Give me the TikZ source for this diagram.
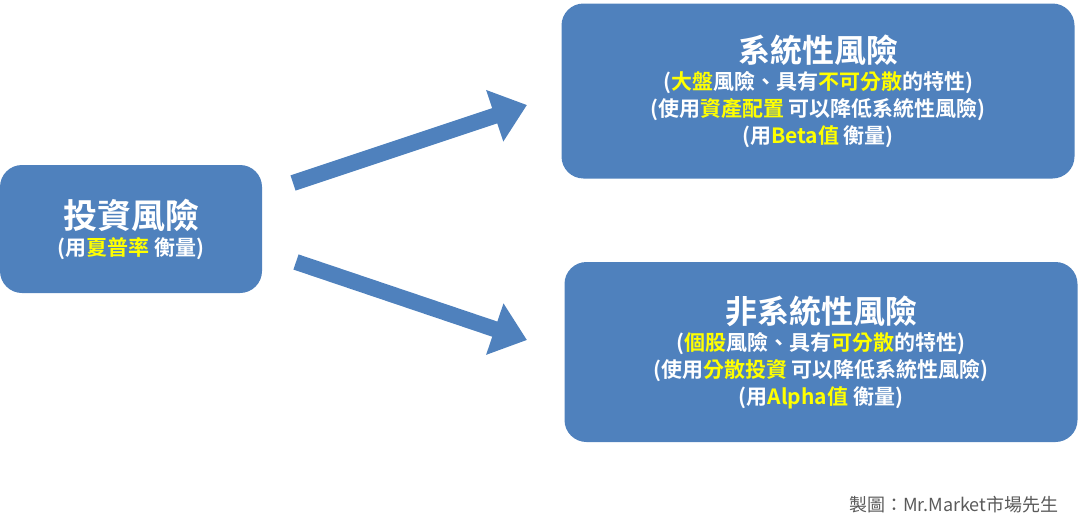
\documentclass[tikz,border=0pt]{standalone}
\usepackage{fontspec}
\usepackage{tikz}
\usetikzlibrary{arrows.meta,positioning}
\newfontfamily\cjk{Noto Sans CJK TC}[BoldFont={Noto Sans CJK TC Bold}]
\definecolor{boxblue}{RGB}{79,129,189}
\definecolor{hilite}{RGB}{255,255,0}
\definecolor{creditgray}{RGB}{90,90,90}
\newcommand{\hl}[1]{\textcolor{hilite}{#1}}

\begin{document}
\begin{tikzpicture}[x=1pt, y=-1pt, riskbox/.style={fill=boxblue, rounded corners=22pt, text=white, align=center, font=\cjk\bfseries\fontsize{21}{27}\selectfont}, bigarrow/.style={draw=boxblue, line width=16pt, -{Triangle[length=34pt,width=52pt]}}]
  \useasboundingbox (0,0) rectangle (1080,530);
  \node[riskbox, minimum width=262pt, minimum height=128pt] (risk) at (131,229) {{\fontsize{34}{40}\selectfont 投資風險}\\(用\hl{夏普率} 衡量)};
  \node[riskbox, minimum width=513pt, minimum height=175pt] (sys) at (818,91) {{\fontsize{32}{40}\selectfont 系統性風險}\\(\hl{大盤}風險、具有\hl{不可分散}的特性)\\(使用\hl{資產配置} 可以降低系統性風險)\\(用\hl{Beta值} 衡量)};
  \node[riskbox, minimum width=513pt, minimum height=180pt] (unsys) at (821,352) {{\fontsize{32}{40}\selectfont 非系統性風險}\\(\hl{個股}風險、具有\hl{可分散}的特性)\\(使用\hl{分散投資} 可以降低系統性風險)\\(用\hl{Alpha值} 衡量)};
  \coordinate (up1) at (293,183);
  \coordinate (up2) at (527,105);
  \coordinate (dn1) at (296,262);
  \coordinate (dn2) at (527,340);
  \draw[bigarrow] (up1) -- (up2);
  \draw[bigarrow] (dn1) -- (dn2);
  \node[text=creditgray, anchor=east, font=\cjk\fontsize{18}{22}\selectfont] (credit) at (1062,505) {製圖：Mr.Market市場先生};
\end{tikzpicture}
\end{document}
